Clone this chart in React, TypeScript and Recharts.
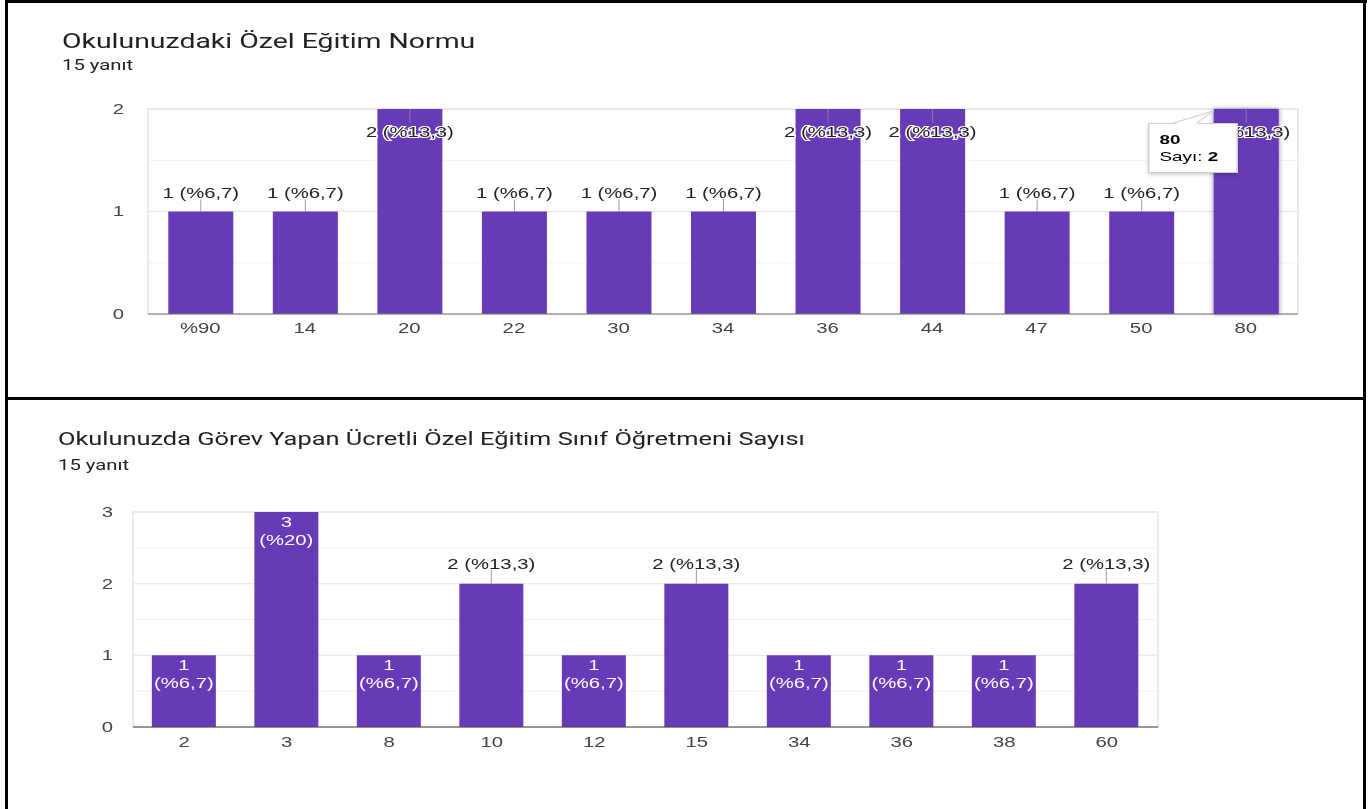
import React from 'react';
import { BarChart, Bar, XAxis, YAxis, CartesianGrid, ReferenceArea, LabelList, Tooltip } from 'recharts';

// horizontal stretch of the reference screenshot
const S = 1.45;
const W = 1370 / S;
const FONT = "Arial, 'Liberation Sans', sans-serif";
const TITLE_FONT = "Roboto, 'Noto Sans', sans-serif";
const PURPLE = '#673ab7';

const topTitle = 'Okulunuzdaki Özel Eğitim Normu';
const bottomTitle = 'Okulunuzda Görev Yapan Ücretli Özel Eğitim Sınıf Öğretmeni Sayısı';
const responseLabel = '15 yanıt';
const responses = 15;

const topCategories = ['%90', '14', '20', '22', '30', '34', '36', '44', '47', '50', '80'];
const topValues = [1, 1, 2, 1, 1, 1, 2, 2, 1, 1, 2];
const topTicks = [0, 1, 2];
const topMinor = [0.5, 1.5];

const bottomCategories = ['2', '3', '8', '10', '12', '15', '34', '36', '38', '60'];
const bottomValues = [1, 3, 1, 2, 1, 2, 1, 1, 1, 2];
const bottomTicks = [0, 1, 2, 3];
const bottomMinor = [0.5, 1.5, 2.5];

const tooltipIndex = 10;
const tooltipCountLabel = 'Sayı';

const topData = topCategories.map((name, i) => ({ name, value: topValues[i] }));
const bottomData = bottomCategories.map((name, i) => ({ name, value: bottomValues[i] }));

const pct = (v: number) => {
  const p = ((v / responses) * 100).toFixed(1).replace('.', ',');
  return p.endsWith(',0') ? p.slice(0, -2) : p;
};

const labelText = { fontFamily: FONT, fontSize: 14 } as const;

const TopLabel = (props: any) => {
  const x = Number(props.x);
  const y = Number(props.y);
  const width = Number(props.width);
  const value = Number(props.value);
  const cx = x + width / 2;
  const text = `${value} (%${pct(value)})`;
  const atTop = value === topTicks[topTicks.length - 1];
  if (atTop) {
    return (
      <g>
        <line x1={cx} x2={cx} y1={y} y2={y + 14} stroke="#8a8a8a" strokeWidth={1 / S} />
        <text x={cx} y={y + 23} dy="0.36em" textAnchor="middle" fill="#222" stroke="#fff" strokeWidth={2.2} paintOrder="stroke" style={labelText}>
          {text}
        </text>
      </g>
    );
  }
  return (
    <g>
      <line x1={cx} x2={cx} y1={y - 12} y2={y} stroke="#8a8a8a" strokeWidth={1 / S} />
      <text x={cx} y={y - 18.5} dy="0.36em" textAnchor="middle" fill="#222" style={labelText}>
        {text}
      </text>
    </g>
  );
};

const BottomLabel = (props: any) => {
  const x = Number(props.x);
  const y = Number(props.y);
  const width = Number(props.width);
  const value = Number(props.value);
  const cx = x + width / 2;
  if (value === 2) {
    return (
      <g>
        <line x1={cx} x2={cx} y1={y - 14} y2={y} stroke="#8a8a8a" strokeWidth={1 / S} />
        <text x={cx} y={y - 20} dy="0.36em" textAnchor="middle" fill="#222" style={labelText}>
          {`${value} (%${pct(value)})`}
        </text>
      </g>
    );
  }
  return (
    <g>
      <text x={cx} y={y + 10} dy="0.36em" textAnchor="middle" fill="#fff" style={labelText}>
        {String(value)}
      </text>
      <text x={cx} y={y + 28} dy="0.36em" textAnchor="middle" fill="#fff" style={labelText}>
        {`(%${pct(value)})`}
      </text>
    </g>
  );
};

const TipBox = (props: any) => {
  const { active, payload, label } = props;
  if (!active || !payload || !payload.length) return null;
  return (
    <div
      style={{
        position: 'relative',
        width: 90 / S,
        height: 50,
        boxSizing: 'border-box',
        background: '#fff',
        border: '1px solid #cfcfcf',
        boxShadow: '0 2px 3px rgba(0,0,0,0.18)',
        fontFamily: FONT,
        fontSize: 13,
        color: '#000',
        padding: `7px 0 0 ${10 / S}px`,
        lineHeight: '17px',
        whiteSpace: 'nowrap',
      }}
    >
      <svg style={{ position: 'absolute', left: 0, top: 0, overflow: 'visible' }} width={1} height={1}>
        <polygon points={`${24 / S},0.5 ${64 / S},-13 ${47 / S},0.5`} fill="#fff" />
        <polyline points={`${24 / S},-1 ${64 / S},-13 ${47 / S},-1`} fill="none" stroke="#cfcfcf" strokeWidth={1} />
      </svg>
      <div style={{ fontWeight: 'bold' }}>{label}</div>
      <div>
        {tooltipCountLabel}: <b>{payload[0].value}</b>
      </div>
    </div>
  );
};

const tickStyle = { fill: '#444', fontSize: 14, fontFamily: FONT };

export default function App() {
  return (
    <div style={{ position: 'absolute', left: 0, top: 0, width: 1370, height: 809, overflow: 'hidden', background: '#fff' }}>
      <div style={{ position: 'absolute', left: 0, top: 0, width: W, height: 809, transform: `scaleX(${S})`, transformOrigin: '0 0' }}>
        {/* titles */}
        <div style={{ position: 'absolute', left: 62 / S, top: 32, fontFamily: TITLE_FONT, fontSize: 19.6, lineHeight: '19.6px', color: '#202124', whiteSpace: 'nowrap' }}>
          {topTitle}
        </div>
        <div style={{ position: 'absolute', left: 62 / S, top: 58, fontFamily: TITLE_FONT, fontSize: 14, lineHeight: '14px', color: '#202124', whiteSpace: 'nowrap' }}>
          {responseLabel}
        </div>
        <div style={{ position: 'absolute', left: 58 / S, top: 431, fontFamily: TITLE_FONT, fontSize: 17.5, lineHeight: '17.5px', color: '#202124', whiteSpace: 'nowrap' }}>
          {bottomTitle}
        </div>
        <div style={{ position: 'absolute', left: 58 / S, top: 458, fontFamily: TITLE_FONT, fontSize: 14, lineHeight: '14px', color: '#202124', whiteSpace: 'nowrap' }}>
          {responseLabel}
        </div>

        {/* top chart */}
        <div style={{ position: 'absolute', left: 0, top: 0 }}>
          <BarChart
            width={W}
            height={397}
            data={topData}
            margin={{ top: 109, right: W - 1298 / S, bottom: 53, left: 148 / S - 60 }}
          >
            <CartesianGrid vertical={false} horizontalValues={topMinor} stroke="#f1f1f1" />
            <CartesianGrid vertical={false} stroke="#e4e4e4" />
            <ReferenceArea y1={0} y2={2} fill="none" fillOpacity={0} stroke="#e4e4e4" />
            <XAxis dataKey="name" interval={0} axisLine={{ stroke: '#777' }} tickLine={false} tickSize={0} tickMargin={9} height={30} tick={tickStyle} />
            <YAxis domain={[0, 2]} ticks={topTicks} width={60} axisLine={false} tickLine={false} tickSize={0} tickMargin={24 / S} tick={tickStyle} />
            <Tooltip
              active
              defaultIndex={tooltipIndex}
              cursor={false}
              isAnimationActive={false}
              position={{ x: 1148 / S, y: 123 }}
              content={TipBox}
              wrapperStyle={{ outline: 'none' }}
            />
            <Bar
              dataKey="value"
              fill={PURPLE}
              barSize={65 / S}
              isAnimationActive={false}
              activeBar={{ fill: PURPLE, style: { filter: 'drop-shadow(0px 0px 2px rgba(0,0,0,0.5))' } }}
            >
              <LabelList dataKey="value" content={TopLabel} />
            </Bar>
          </BarChart>
        </div>

        {/* bottom chart */}
        <div style={{ position: 'absolute', left: 0, top: 397 }}>
          <BarChart
            width={W}
            height={412}
            data={bottomData}
            margin={{ top: 115, right: W - 1158 / S, bottom: 52, left: 133 / S - 60 }}
          >
            <CartesianGrid vertical={false} horizontalValues={bottomMinor} stroke="#f1f1f1" />
            <CartesianGrid vertical={false} stroke="#e4e4e4" />
            <ReferenceArea y1={0} y2={3} fill="none" fillOpacity={0} stroke="#e4e4e4" />
            <XAxis dataKey="name" interval={0} axisLine={{ stroke: '#444' }} tickLine={false} tickSize={0} tickMargin={10} height={30} tick={tickStyle} />
            <YAxis domain={[0, 3]} ticks={bottomTicks} width={60} axisLine={false} tickLine={false} tickSize={0} tickMargin={20 / S} tick={tickStyle} />
            <Bar dataKey="value" fill={PURPLE} barSize={64 / S} isAnimationActive={false}>
              <LabelList dataKey="value" content={BottomLabel} />
            </Bar>
          </BarChart>
        </div>
      </div>

      {/* frame lines */}
      <div style={{ position: 'absolute', left: 5, top: 0, width: 1362, height: 3, background: '#000' }} />
      <div style={{ position: 'absolute', left: 5, top: 0, width: 3, height: 809, background: '#000' }} />
      <div style={{ position: 'absolute', left: 1363, top: 0, width: 3, height: 809, background: '#000' }} />
      <div style={{ position: 'absolute', left: 5, top: 397, width: 1361, height: 3, background: '#000' }} />
    </div>
  );
}
